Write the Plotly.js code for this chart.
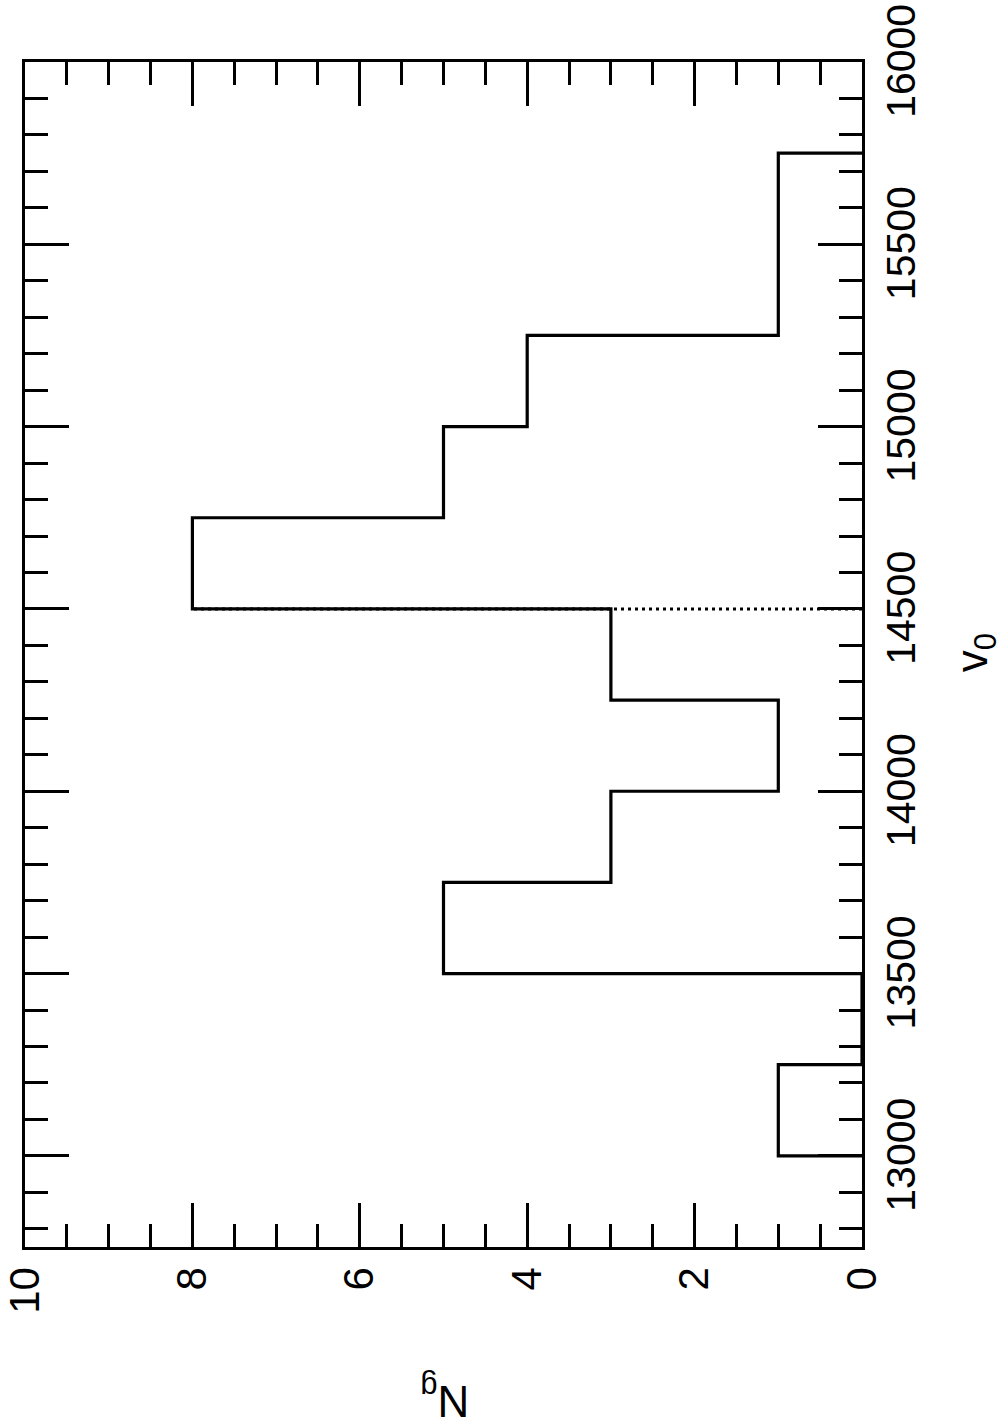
<!DOCTYPE html>
<html>
<head>
<meta charset="utf-8">
<script src="https://cdn.plot.ly/plotly-3.0.1.min.js"></script>
<style>
html,body{margin:0;padding:0;background:#fff;}
#chart{width:1004px;height:1428px;}
</style>
</head>
<body>
<div id="chart"></div>
<script>
// Histogram of v0 (bin edges) and counts N_g
var binEdges = [13000, 13250, 13500, 13750, 14000, 14250, 14500, 14750, 15000, 15250, 15500, 15750];
var counts   = [1, 0, 5, 3, 1, 3, 8, 5, 4, 1, 1];
// dotted marker line at v0 = 14500
var markerV0 = 14500;
var markerN  = [0, 8];
var ngTicks = [0, 2, 4, 6, 8, 10];
var v0Ticks = [13000, 13500, 14000, 14500, 15000, 15500, 16000];

var stepX = [0].concat(counts).concat([0]);
var stepY = binEdges.concat([binEdges[binEdges.length - 1]]);

var FONT = 'Liberation Sans, Arial, Helvetica, sans-serif';

var traces = [
  {
    type: 'scatter', mode: 'lines',
    x: stepX, y: stepY,
    line: {shape: 'hv', color: '#000', width: 3.2},
    hoverinfo: 'none', showlegend: false
  },
  {
    type: 'scatter', mode: 'lines',
    x: markerN, y: [markerV0, markerV0],
    line: {color: '#000', width: 3, dash: '3px,4px'},
    hoverinfo: 'none', showlegend: false
  }
];

var layout = {
  width: 1004, height: 1428,
  margin: {l: 25, r: 142, t: 62, b: 181},
  paper_bgcolor: '#fff', plot_bgcolor: '#fff',
  showlegend: false,
  font: {family: FONT, color: '#000', size: 42},
  xaxis: {
    range: [10, 0], autorange: false,
    tickmode: 'array', tickvals: ngTicks, ticktext: ngTicks.map(String),
    ticks: 'inside', ticklen: 44, tickwidth: 3, tickcolor: '#000',
    minor: {dtick: 0.5, ticks: 'inside', ticklen: 23, tickwidth: 3, tickcolor: '#000', showgrid: false},
    tickangle: -90, ticklabeloverflow: 'allow',
    tickfont: {family: FONT, size: 42, color: '#000'},
    showline: true, linewidth: 3.3, linecolor: '#000', mirror: 'ticks',
    showgrid: false, zeroline: false, side: 'bottom'
  },
  yaxis: {
    range: [12750, 16000], autorange: false,
    tickmode: 'array', tickvals: v0Ticks, ticktext: v0Ticks.map(String),
    ticks: 'inside', ticklen: 44, tickwidth: 3, tickcolor: '#000',
    minor: {dtick: 100, tick0: 0, ticks: 'inside', ticklen: 23, tickwidth: 3, tickcolor: '#000', showgrid: false},
    tickangle: -90, ticklabeloverflow: 'allow', ticklabelshift: 5,
    tickfont: {family: FONT, size: 41, color: '#000'},
    showline: true, linewidth: 3.3, linecolor: '#000', mirror: 'ticks',
    showgrid: false, zeroline: false, side: 'right'
  },
  annotations: [
    {
      text: 'v<sub>0</sub>', xref: 'paper', yref: 'paper',
      x: 1.135, y: 0.502, xanchor: 'center', yanchor: 'middle',
      textangle: -90, showarrow: false,
      font: {family: FONT, size: 44, color: '#000'}
    },
    {
      text: 'N<sub>g</sub>', xref: 'paper', yref: 'paper',
      x: 0.502, y: -0.127, xanchor: 'center', yanchor: 'middle',
      textangle: 180, showarrow: false,
      font: {family: FONT, size: 44, color: '#000'}
    }
  ]
};

Plotly.newPlot('chart', traces, layout, {displayModeBar: false, staticPlot: true});
</script>
</body>
</html>
